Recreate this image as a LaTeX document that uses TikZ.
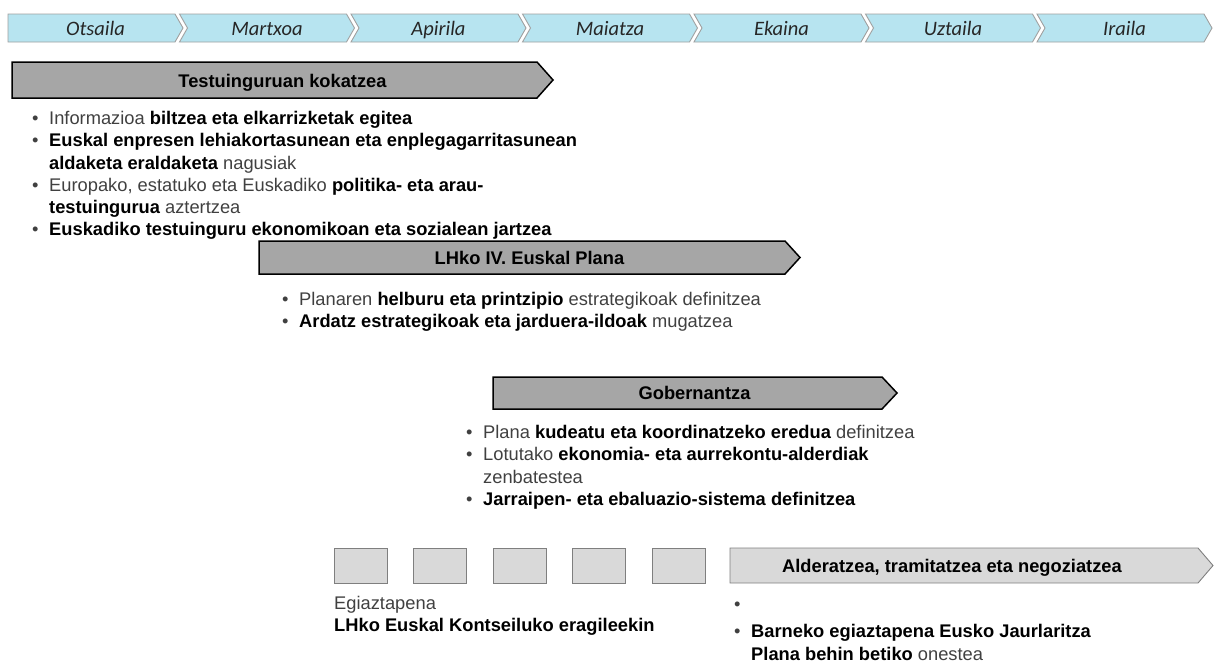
\documentclass[tikz,border=0pt]{standalone}
\usepackage{fontspec}
\setmainfont{Liberation Sans}
\newfontfamily\mesfont{Carlito}

\definecolor{mesblue}{RGB}{183,228,240}
\definecolor{mesline}{RGB}{160,160,160}
\definecolor{fasegray}{RGB}{166,166,166}
\definecolor{argigray}{RGB}{217,217,217}
\definecolor{argiline}{RGB}{127,127,127}
\definecolor{testugray}{RGB}{64,64,64}

\newcommand{\testufont}{\fontsize{18.3}{22.2}\selectfont}
\newcommand{\bt}[1]{{\bfseries\color{black}#1}}
\newcommand{\itm}{\makebox[17pt][l]{\textbullet}}
\newcommand{\jrr}{\hspace*{17pt}}

\begin{document}
\begin{tikzpicture}[x=1pt,y=-1pt,
      mes/.style={fill=mesblue,draw=mesline,line width=.9pt},
      mestxt/.style={font=\mesfont\itshape\fontsize{20.5}{24}\selectfont,text=black!85,anchor=base,inner sep=0pt},
      fase/.style={fill=fasegray,draw=black,line width=1.5pt},
      argi/.style={fill=argigray,draw=argiline,line width=.9pt},
      fasetxt/.style={font=\testufont\bfseries,anchor=base,inner sep=0pt},
      zerrenda/.style={font=\testufont,text=testugray,align=left,anchor=north west,inner sep=0pt},
      proba/.style={argi,minimum width=53pt,minimum height=35pt,inner sep=0pt}]

    \useasboundingbox (0,0) rectangle (1215,662);

    % hilabeteak
    \foreach \m [count=\i from 0] in {Otsaila,Martxoa,Apirila,Maiatza,Ekaina,Uztaila,Iraila} {
      \pgfmathsetmacro{\mx}{8+171.5*\i}
      \pgfmathsetmacro{\notx}{ifthenelse(\i==0,0,8)}
      \draw[mes] (\mx,14) -- (\mx+167,14) -- (\mx+175,28) -- (\mx+167,42) -- (\mx,42) -- (\mx+\notx,28) -- cycle;
      \node[mestxt] (mes\i) at (\mx+87.5,35) {\m};
    }

    % faseak
    \draw[fase] (12,62) -- (537,62) -- (553,80) -- (537,98) -- (12,98) -- cycle;
    \node[fasetxt] (testuinguru) at (282.5,87) {Testuinguruan kokatzea};
    \node[zerrenda] (testuzerr) at (32,109) {\strut\itm Informazioa \bt{biltzea eta elkarrizketak egitea}\\
      \itm\bt{Euskal enpresen lehiakortasunean eta enplegagarritasunean}\\
      \jrr\bt{aldaketa eraldaketa} nagusiak\\
      \itm Europako, estatuko eta Euskadiko \bt{politika- eta arau-}\\
      \jrr\bt{testuingurua} aztertzea\\
      \itm\bt{Euskadiko testuinguru ekonomikoan eta sozialean jartzea}};

    \draw[fase] (259,241) -- (785,241) -- (800,257.5) -- (785,274) -- (259,274) -- cycle;
    \node[fasetxt] (plana) at (529.5,264) {LHko IV. Euskal Plana};
    \node[zerrenda] (planazerr) at (282,290) {\strut\itm Planaren \bt{helburu eta printzipio} estrategikoak definitzea\\
      \itm\bt{Ardatz estrategikoak eta jarduera-ildoak} mugatzea};

    \draw[fase] (493,377) -- (882,377) -- (897,393) -- (882,409) -- (493,409) -- cycle;
    \node[fasetxt] (gobernantza) at (694.5,399.5) {Gobernantza};
    \node[zerrenda] (gobzerr) at (466,423) {\strut\itm Plana \bt{kudeatu eta koordinatzeko eredua} definitzea\\
      \itm Lotutako \bt{ekonomia- eta aurrekontu-alderdiak}\\
      \jrr zenbatestea\\
      \itm\bt{Jarraipen- eta ebaluazio-sistema definitzea}};

    % egiaztapena
    \foreach \i in {0,...,4} {
      \node[proba] (proba\i) at ({360.5+79.5*\i},565.5) {};
    }
    \node[zerrenda] (egiaztapena) at (334,594) {\strut Egiaztapena\\
      \bt{LHko Euskal Kontseiluko eragileekin}};

    \draw[argi] (730,548) -- (1198,548) -- (1213,565.5) -- (1198,583) -- (730,583) -- cycle;
    \node[fasetxt] (alderatzea) at (952,572) {Alderatzea, tramitatzea eta negoziatzea};
    \node[zerrenda] (onestea) at (734,595) {\strut\itm\\[5pt]
      \itm\bt{Barneko egiaztapena Eusko Jaurlaritza}\\
      \jrr\bt{Plana behin betiko} onestea};

\end{tikzpicture}
\end{document}
